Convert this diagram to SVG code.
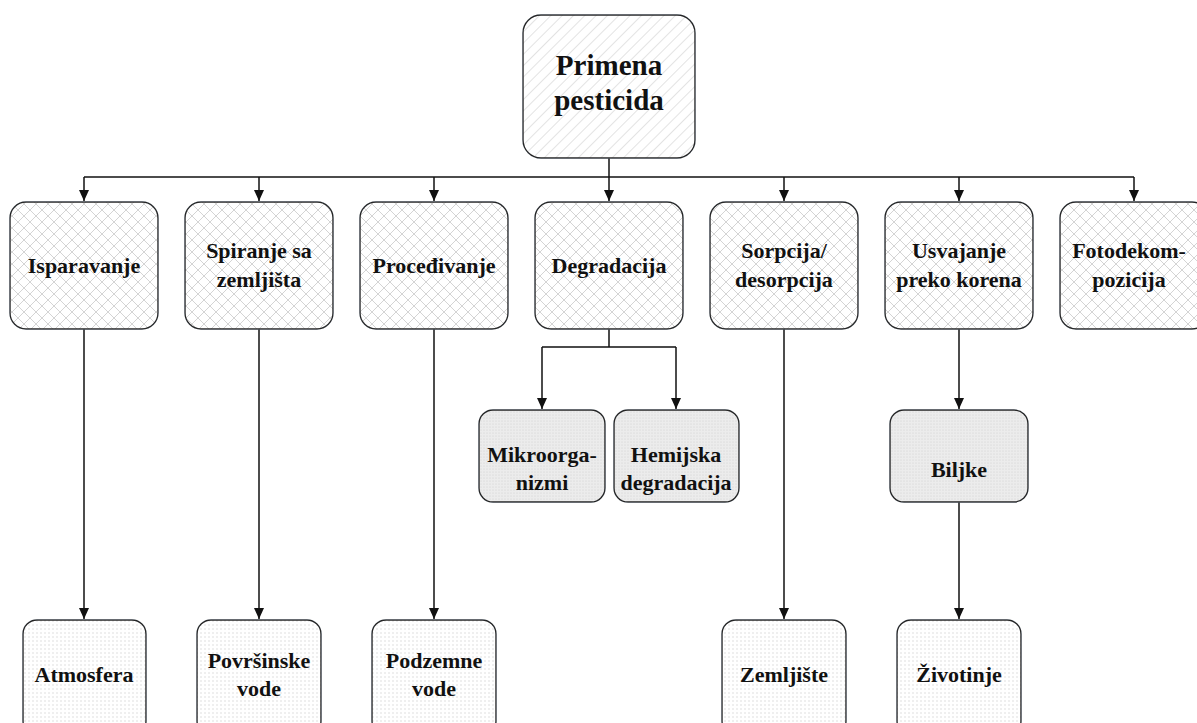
<svg xmlns="http://www.w3.org/2000/svg" width="1197" height="723" viewBox="0 0 1197 723">
<style>
.box{stroke:#262626;stroke-width:1.4}
.t{font-family:"Liberation Serif",serif;font-weight:bold;font-size:22px;fill:#111;text-anchor:middle}
.big{font-size:29px}
.c{fill:none;stroke:#111;stroke-width:1.5}
</style>
<defs>
<pattern id="diag" width="8" height="8" patternUnits="userSpaceOnUse" patternTransform="rotate(45)">
<rect width="8" height="8" fill="#fff"/><line x1="0" y1="0" x2="0" y2="8" stroke="#d0d0d0" stroke-width="1.2"/>
</pattern>
<pattern id="cross" width="12" height="12" patternUnits="userSpaceOnUse">
<rect width="12" height="12" fill="#fff"/><path d="M0 0L12 12M12 0L0 12" stroke="#d4d4d4" stroke-width="1"/>
</pattern>
<pattern id="dots" width="4" height="4" patternUnits="userSpaceOnUse">
<rect width="4" height="4" fill="#fff"/><circle cx="1" cy="1" r="0.7" fill="#d4d4d4"/>
</pattern>
<pattern id="gdots" width="3" height="3" patternUnits="userSpaceOnUse">
<rect width="3" height="3" fill="#ececec"/><circle cx="1" cy="1" r="0.6" fill="#cfcfcf"/>
</pattern>
<filter id="sh" x="-10%" y="-10%" width="120%" height="120%">
<feGaussianBlur in="SourceAlpha" stdDeviation="2.5"/>
<feOffset dx="0" dy="1"/>
<feFlood flood-color="#b8cde0" flood-opacity="0.7"/>
<feComposite operator="in" in2="SourceGraphic"/>
<feComposite operator="in"/>
<feMerge><feMergeNode/><feMergeNode in="SourceGraphic"/></feMerge>
</filter>
<marker id="ar" markerWidth="12" markerHeight="12" refX="11" refY="5" orient="auto" markerUnits="userSpaceOnUse">
<path d="M0 0L11 5L0 10Z" fill="#111"/>
</marker>
</defs>

<g id="connectors">
<path class="c" d="M609 158V177"/>
<path class="c" d="M84 177H1134"/>
<path class="c" d="M84 177V201" marker-end="url(#ar)"/>
<path class="c" d="M259 177V201" marker-end="url(#ar)"/>
<path class="c" d="M434 177V201" marker-end="url(#ar)"/>
<path class="c" d="M609 177V201" marker-end="url(#ar)"/>
<path class="c" d="M784 177V201" marker-end="url(#ar)"/>
<path class="c" d="M959 177V201" marker-end="url(#ar)"/>
<path class="c" d="M1134 177V201" marker-end="url(#ar)"/>
<path class="c" d="M84 329V619" marker-end="url(#ar)"/>
<path class="c" d="M259 329V619" marker-end="url(#ar)"/>
<path class="c" d="M434 329V619" marker-end="url(#ar)"/>
<path class="c" d="M784 329V619" marker-end="url(#ar)"/>
<path class="c" d="M609 329V347H542M609 347H676"/>
<path class="c" d="M542 347V409" marker-end="url(#ar)"/>
<path class="c" d="M676 347V409" marker-end="url(#ar)"/>
<path class="c" d="M959 329V409" marker-end="url(#ar)"/>
<path class="c" d="M959 502V619" marker-end="url(#ar)"/>
</g>

<g id="n-primena"><rect class="box" x="523" y="15" width="172" height="143" rx="18" fill="url(#diag)" filter="url(#sh)"/><text class="t big" x="609" y="75">Primena</text><text class="t big" x="609" y="110">pesticida</text></g>

<g id="n-isparavanje"><rect class="box" x="10" y="202" width="148" height="127" rx="16" fill="url(#cross)" filter="url(#sh)"/><text class="t" x="84" y="273">Isparavanje</text></g>
<g id="n-spiranje"><rect class="box" x="185" y="202" width="148" height="127" rx="16" fill="url(#cross)" filter="url(#sh)"/><text class="t" x="259" y="258">Spiranje sa</text><text class="t" x="259" y="287">zemljišta</text></g>
<g id="n-procedjivanje"><rect class="box" x="360" y="202" width="148" height="127" rx="16" fill="url(#cross)" filter="url(#sh)"/><text class="t" x="434" y="273">Proceđivanje</text></g>
<g id="n-degradacija"><rect class="box" x="535" y="202" width="148" height="127" rx="16" fill="url(#cross)" filter="url(#sh)"/><text class="t" x="609" y="273">Degradacija</text></g>
<g id="n-sorpcija"><rect class="box" x="710" y="202" width="148" height="127" rx="16" fill="url(#cross)" filter="url(#sh)"/><text class="t" x="784" y="258">Sorpcija/</text><text class="t" x="784" y="287">desorpcija</text></g>
<g id="n-usvajanje"><rect class="box" x="885" y="202" width="148" height="127" rx="16" fill="url(#cross)" filter="url(#sh)"/><text class="t" x="959" y="258">Usvajanje</text><text class="t" x="959" y="287">preko korena</text></g>
<g id="n-fotodekompozicija"><rect class="box" x="1060" y="202" width="148" height="127" rx="16" fill="url(#cross)" filter="url(#sh)"/><text class="t" x="1129" y="258">Fotodekom-</text><text class="t" x="1129" y="287">pozicija</text></g>

<g id="n-mikroorganizmi"><rect class="box" x="479" y="410" width="126" height="92" rx="14" fill="url(#gdots)" filter="url(#sh)"/><text class="t" x="542" y="462">Mikroorga-</text><text class="t" x="542" y="490">nizmi</text></g>
<g id="n-hemijska"><rect class="box" x="614" y="410" width="125" height="92" rx="14" fill="url(#gdots)" filter="url(#sh)"/><text class="t" x="676" y="462">Hemijska</text><text class="t" x="676" y="490">degradacija</text></g>
<g id="n-biljke"><rect class="box" x="890" y="410" width="138" height="92" rx="14" fill="url(#gdots)" filter="url(#sh)"/><text class="t" x="959" y="477">Biljke</text></g>

<g id="n-atmosfera"><rect class="box" x="23" y="620" width="123" height="115" rx="14" fill="url(#dots)" filter="url(#sh)"/><text class="t" x="84" y="682">Atmosfera</text></g>
<g id="n-povrsinske"><rect class="box" x="197" y="620" width="124" height="115" rx="14" fill="url(#dots)" filter="url(#sh)"/><text class="t" x="259" y="668">Površinske</text><text class="t" x="259" y="696">vode</text></g>
<g id="n-podzemne"><rect class="box" x="372" y="620" width="124" height="115" rx="14" fill="url(#dots)" filter="url(#sh)"/><text class="t" x="434" y="668">Podzemne</text><text class="t" x="434" y="696">vode</text></g>
<g id="n-zemljiste"><rect class="box" x="722" y="620" width="124" height="115" rx="14" fill="url(#dots)" filter="url(#sh)"/><text class="t" x="784" y="682">Zemljište</text></g>
<g id="n-zivotinje"><rect class="box" x="897" y="620" width="124" height="115" rx="14" fill="url(#dots)" filter="url(#sh)"/><text class="t" x="959" y="682">Životinje</text></g>
</svg>
